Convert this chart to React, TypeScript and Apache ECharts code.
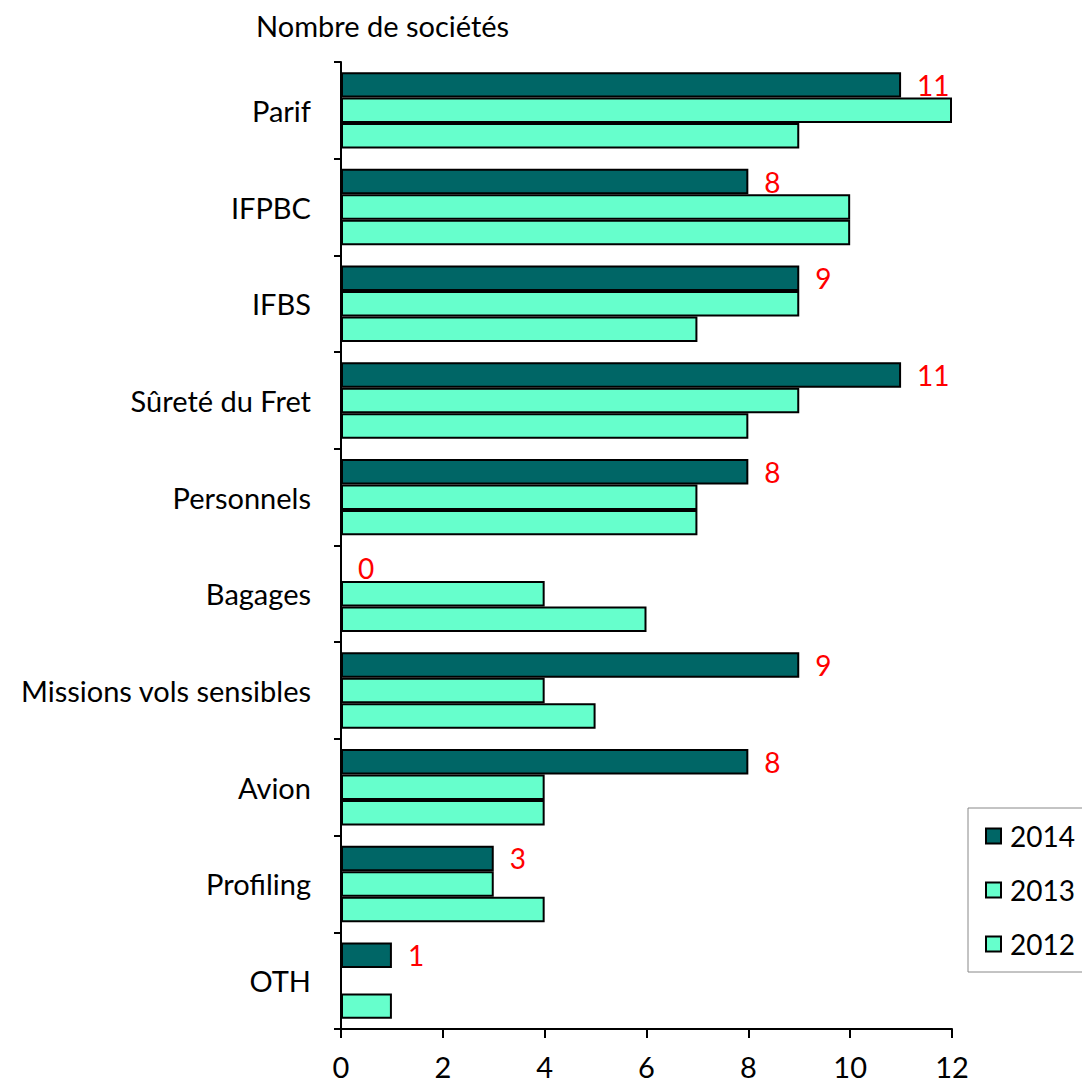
import React, { useEffect, useRef } from "react";
import * as echarts from "echarts";

const categories = [
  "Parif",
  "IFPBC",
  "IFBS",
  "Sûreté du Fret",
  "Personnels",
  "Bagages",
  "Missions vols sensibles",
  "Avion",
  "Profiling",
  "OTH",
];
const values2014 = [11, 8, 9, 11, 8, 0, 9, 8, 3, 1];
const values2013 = [12, 10, 9, 9, 7, 4, 4, 4, 3, 0];
const values2012 = [9, 10, 7, 8, 7, 6, 5, 4, 4, 1];
const seriesNames = ["2014", "2013", "2012"];
const xTicks = { min: 0, max: 12, interval: 2 };

const FONT = "Lato, 'Open Sans', sans-serif";

export default function App() {
  const ref = useRef<HTMLDivElement>(null);
  useEffect(() => {
    if (!ref.current) return;
    const chart = echarts.init(ref.current, null, { renderer: "svg" });
    const barStyle = (color: string) => ({
      color,
      borderColor: "#000",
      borderWidth: 2,
    });
    chart.setOption({
      animation: false,
      backgroundColor: "#fff",
      textStyle: { fontFamily: FONT },
      title: {
        text: "Nombre de sociétés",
        left: 251,
        top: 6,
        textStyle: { fontFamily: FONT, fontSize: 29, fontWeight: "normal", color: "#000" },
      },
      legend: {
        orient: "vertical",
        left: 968,
        top: 808,
        padding: [14, 30, 14, 17],
        itemGap: 26,
        itemWidth: 15,
        itemHeight: 15,
        borderColor: "#888",
        borderWidth: 1,
        icon: "rect",
        textStyle: { fontFamily: FONT, fontSize: 28, color: "#000", lineHeight: 28, padding: [0, 0, 0, 4] },
        data: seriesNames,
      },
      grid: { left: 341, right: 130, top: 62, bottom: 55, containLabel: false },
      xAxis: {
        type: "value",
        min: xTicks.min,
        max: xTicks.max,
        interval: xTicks.interval,
        splitLine: { show: false },
        axisLine: { show: true, lineStyle: { color: "#000", width: 2 } },
        axisTick: { show: true, length: 9, lineStyle: { color: "#000", width: 2 } },
        axisLabel: { fontFamily: FONT, fontSize: 29, color: "#000", margin: 23 },
      },
      yAxis: {
        type: "category",
        inverse: true,
        data: categories,
        axisLine: { show: true, lineStyle: { color: "#000", width: 2 } },
        axisTick: { show: true, length: 7, lineStyle: { color: "#000", width: 2 } },
        axisLabel: { fontFamily: FONT, fontSize: 29, color: "#000", margin: 30 },
      },
      series: [
        {
          name: seriesNames[0],
          type: "bar",
          data: values2014,
          itemStyle: barStyle("#006666"),
          barGap: "0%",
          barCategoryGap: "21%",
          label: {
            show: true,
            position: "right",
            distance: 16,
            color: "#ff0000",
            fontFamily: FONT,
            fontSize: 28,
          },
        },
        {
          name: seriesNames[1],
          type: "bar",
          data: values2013,
          itemStyle: barStyle("#66ffcc"),
          barGap: "0%",
          barCategoryGap: "21%",
        },
        {
          name: seriesNames[2],
          type: "bar",
          data: values2012,
          itemStyle: barStyle("#66ffcc"),
          barGap: "0%",
          barCategoryGap: "21%",
        },
      ],
    });
    return () => chart.dispose();
  }, []);
  return (
    <div
      ref={ref}
      style={{ position: "absolute", left: 0, top: 0, width: 1082, height: 1084 }}
    />
  );
}
